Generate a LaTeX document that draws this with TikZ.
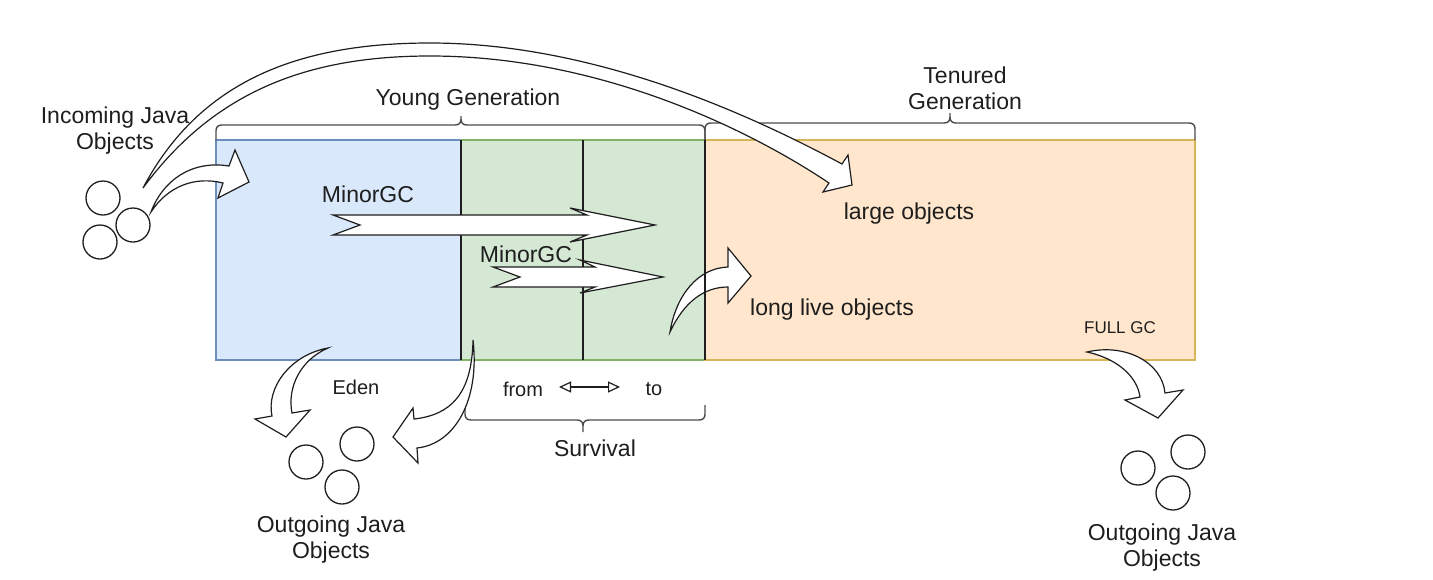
\documentclass[tikz,border=0pt]{standalone}
\usepackage{fontspec}
\setmainfont{Liberation Sans}
\usetikzlibrary{arrows.meta}
\definecolor{edenfill}{HTML}{DAE8FC}
\definecolor{edenline}{HTML}{6C8EBF}
\definecolor{survfill}{HTML}{D5E8D4}
\definecolor{survline}{HTML}{82B366}
\definecolor{tenfill}{HTML}{FFE6CC}
\definecolor{tenline}{HTML}{D6B656}
\definecolor{ink}{HTML}{1E1E1E}
\begin{document}
\begin{tikzpicture}[x=1pt,y=-1pt,
  lbl/.style={font=\fontsize{23}{26}\selectfont, text=ink, inner sep=0pt, align=center},
  small/.style={font=\fontsize{17}{20}\selectfont, text=ink, inner sep=0pt},
  mid/.style={font=\fontsize{20}{23}\selectfont, text=ink, inner sep=0pt},
  obj/.style={circle, draw=ink, line width=1.3pt, minimum size=34pt, inner sep=0pt},
  box/.style={inner sep=0pt, outer sep=0pt, line width=1.1pt, anchor=north west, minimum height=220pt},
  blockarrow/.style={draw=ink, fill=white, line width=1.2pt, line join=miter},
  brace/.style={draw=ink!80, line width=1.4pt},
  divider/.style={draw=ink, line width=1.2pt},
  fromto/.style={draw=ink, line width=1.2pt, {Triangle[open,length=12pt,width=11pt]}-{Triangle[open,length=12pt,width=11pt]}},
]
\useasboundingbox (0,0) rectangle (1433,579);

% memory areas
\node[box, fill=edenfill, draw=edenline, minimum width=245pt] (edenbox) at (216,140) {};
\node[box, fill=survfill, draw=survline, minimum width=122pt] (frombox) at (461,140) {};
\node[box, fill=survfill, draw=survline, minimum width=122pt] (tobox) at (583,140) {};
\node[box, fill=tenfill, draw=tenline, minimum width=490pt] (tenbox) at (705,140) {};
\draw[divider] (frombox.north west) -- (frombox.south west);
\draw[divider] (tobox.north west) -- (tobox.south west);

% braces
\draw[brace] (216,140) -- (216,131) .. controls (216,127) and (218,125) .. (222,125) -- (455,125)
  .. controls (459,125) and (461,123) .. (461,119) -- (461,116)
  (461,119) .. controls (461,123) and (463,125) .. (467,125) -- (699,125)
  .. controls (703,125) and (705,127) .. (705,131) -- (705,140);
\draw[brace] (705,140) -- (705,129) .. controls (705,125) and (707,123) .. (711,123) -- (944,123)
  .. controls (948,123) and (950,121) .. (950,117) -- (950,113)
  (950,117) .. controls (950,121) and (952,123) .. (956,123) -- (1189,123)
  .. controls (1193,123) and (1195,125) .. (1195,129) -- (1195,140);
\draw[brace] (465,405) -- (465,414) .. controls (465,418) and (467,420) .. (471,420) -- (577,420)
  .. controls (581,420) and (583,422) .. (583,426) -- (583,432)
  (583,426) .. controls (583,422) and (585,420) .. (589,420) -- (699,420)
  .. controls (703,420) and (705,418) .. (705,414) -- (705,405);

% objects
\node[obj] (in1) at (103,198) {};
\node[obj] (in2) at (100,242) {};
\node[obj] (in3) at (133,225) {};
\node[obj] (ol1) at (306,462) {};
\node[obj] (ol2) at (357,444) {};
\node[obj] (ol3) at (342,487) {};
\node[obj] (or1) at (1138,468) {};
\node[obj] (or2) at (1188,452) {};
\node[obj] (or3) at (1173,493) {};

% incoming arrow
\draw[blockarrow] (151,212) .. controls (163,180) and (192,160) .. (229,166) -- (235,150) -- (249,182)
  -- (218,198) -- (223,183) .. controls (195,176) and (168,186) .. (151,212) -- cycle;
% big arc to large objects
\draw[blockarrow] (143,188) .. controls (200,80) and (300,43) .. (430,43)
  .. controls (600,43) and (760,120) .. (842,164) -- (848,155) -- (852,185) -- (823,192) -- (829,183)
  .. controls (750,130) and (600,56) .. (430,56) .. controls (310,56) and (215,90) .. (143,188) -- cycle;
% MinorGC arrows
\draw[blockarrow] (333,215) -- (587,215) -- (570,208) -- (655,225) -- (570,242) -- (587,235)
  -- (333,235) -- (360,225) -- cycle;
\draw[blockarrow] (493,267) -- (595,267) -- (580,260) -- (663,277) -- (580,293) -- (595,287)
  -- (493,287) -- (520,277) -- cycle;
% eden out
\draw[blockarrow] (328,348) .. controls (290,355) and (266,388) .. (272,416) -- (255,419) -- (286,437)
  -- (310,410) -- (292,413) .. controls (287,388) and (300,360) .. (328,348) -- cycle;
% survivor out
\draw[blockarrow] (473,340) .. controls (472,395) and (450,415) .. (414,419) -- (413,408) -- (393,437)
  -- (418,463) -- (417,448) .. controls (455,444) and (480,400) .. (473,340) -- cycle;
% full gc out
\draw[blockarrow] (1087,352) .. controls (1125,343) and (1162,362) .. (1165,393) -- (1183,390) -- (1158,418)
  -- (1125,400) -- (1140,397) .. controls (1137,375) and (1115,358) .. (1087,352) -- cycle;
% long live
\draw[blockarrow] (670,332) .. controls (676,295) and (698,268) .. (728,267) -- (728,248) -- (751,276)
  -- (728,303) -- (728,287) .. controls (704,287) and (684,302) .. (670,332) -- cycle;
\draw[divider] (tenbox.north west) -- (tenbox.south west);

% labels
\node[lbl] (incoming) at (115,131) {Incoming Java\\Objects};
\node[lbl] (young) at (468,100) {Young Generation};
\node[lbl] (tenured) at (965,88) {Tenured\\Generation};
\node[lbl] (mgc1) at (368,194) {MinorGC};
\node[lbl] (mgc2) at (526,254) {MinorGC};
\node[lbl] (large) at (909,214) {large objects};
\node[lbl] (longlive) at (832,310) {long live objects};
\node[small] (fullgc) at (1120,328) {FULL GC};
\node[mid] (eden) at (356,387) {Eden};
\node[mid] (from) at (523,389) {from};
\node[mid] (to) at (654,389) {to};
\coordinate (fa) at (559,387);
\coordinate (fb) at (620,387);
\draw[fromto] (fa) -- (fb);
\node[lbl] (survival) at (595,448) {Survival};
\node[lbl] (out1) at (331,540) {Outgoing Java\\Objects};
\node[lbl] (out2) at (1162,548) {Outgoing Java\\Objects};
\end{tikzpicture}
\end{document}
